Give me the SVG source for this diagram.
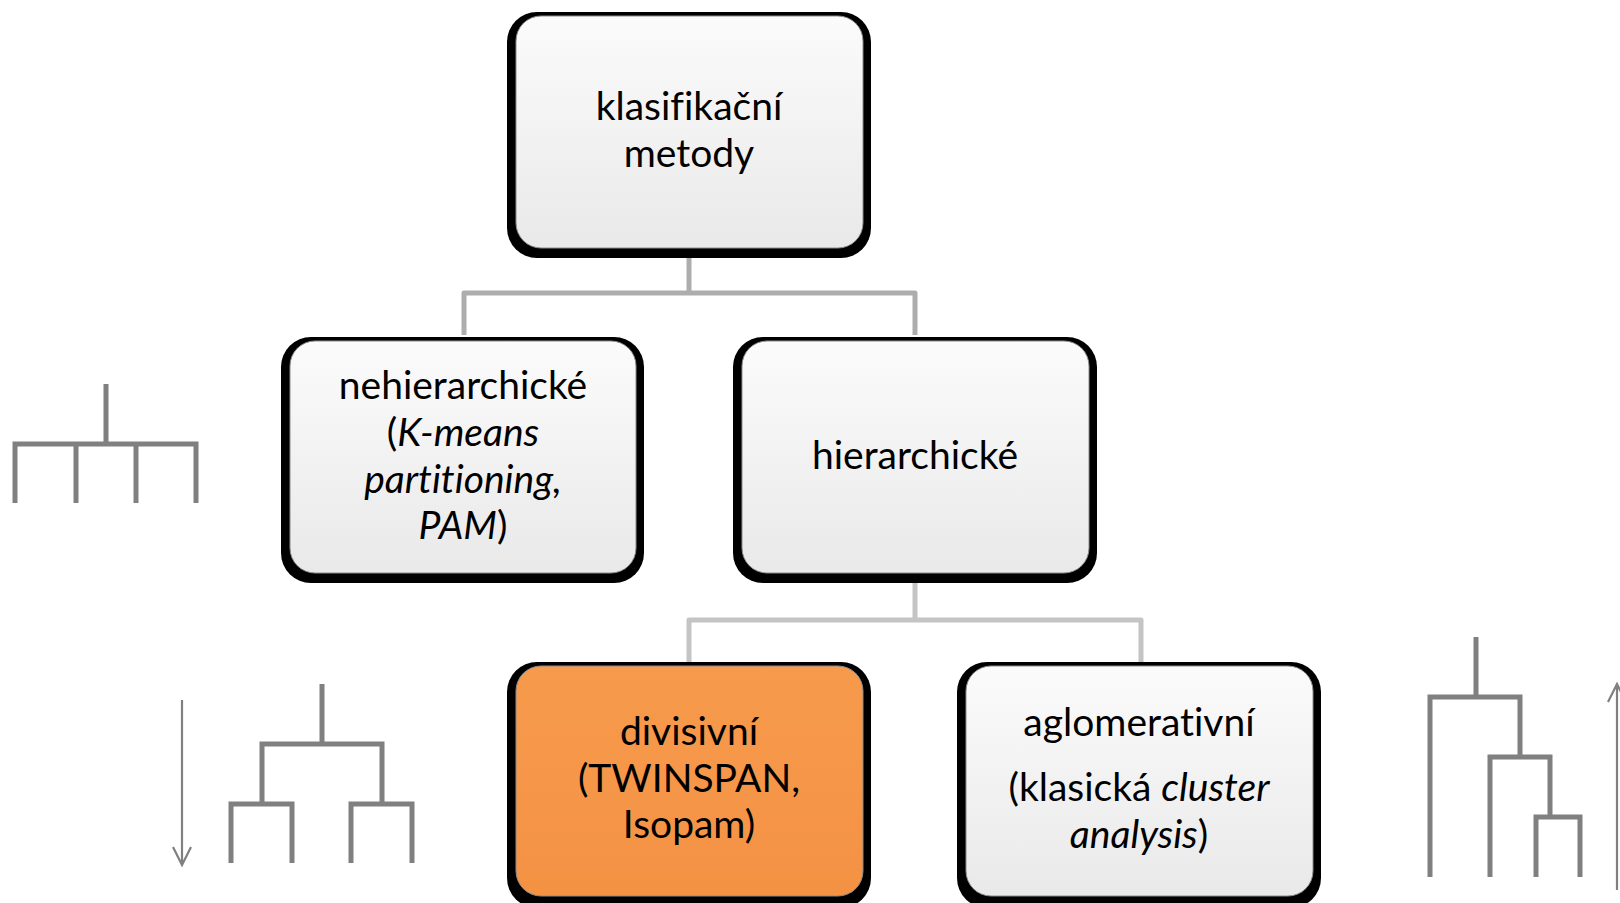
<svg xmlns="http://www.w3.org/2000/svg" width="1620" height="903" viewBox="0 0 1620 903">
<defs>
<linearGradient id="gLight" x1="0" y1="0" x2="0" y2="1">
<stop offset="0" stop-color="#fbfbfb"/>
<stop offset="1" stop-color="#e9e9e9"/>
</linearGradient>
<linearGradient id="gOrange" x1="0" y1="0" x2="0" y2="1">
<stop offset="0" stop-color="#f79a4c"/>
<stop offset="1" stop-color="#f49244"/>
</linearGradient>
<style>
.shadow{fill:#000}
.box{fill:url(#gLight);stroke:#8c8c8c;stroke-width:1}
.box.hl{fill:url(#gOrange)}
.t{font-family:Lato,"Open Sans","Liberation Sans",sans-serif;font-size:39px;fill:#000;text-anchor:middle;font-variant-ligatures:none;font-feature-settings:"liga" 0,"clig" 0}
.i{font-style:italic}
.c1{fill:none;stroke:#adadad;stroke-width:5;stroke-linejoin:round}
.c2{fill:none;stroke:#c4c4c4;stroke-width:5;stroke-linejoin:round}
.den{fill:none;stroke:#808080;stroke-width:5;stroke-linejoin:miter;stroke-linecap:butt}
.arr{fill:none;stroke:#808080;stroke-width:2.2;stroke-linejoin:miter}
</style>
</defs>
<g id="connectors">
<path class="c1" d="M689,250 V293 M464,335 V293 H915 V335"/>
<path class="c2" d="M915,575 V620 M689,662 V620 H1141 V662"/>
</g>
<g id="node-klasifikacni">
<rect class="shadow" x="507" y="12" width="364" height="246" rx="30"/>
<rect class="box" x="516" y="16" width="347" height="232" rx="25"/>
<text class="t" x="689" y="120">klasifikační</text>
<text class="t" x="689" y="167">metody</text>
</g>
<g id="node-nehierarchicke">
<rect class="shadow" x="281" y="337" width="363" height="246" rx="30"/>
<rect class="box" x="290" y="341" width="346" height="232" rx="25"/>
<text class="t" x="463" y="399">nehierarchické</text>
<text class="t" x="463" y="446">(<tspan class="i">K-means</tspan></text>
<text class="t i" x="463" y="493">partitioning,</text>
<text class="t" x="463" y="539"><tspan class="i">PAM</tspan>)</text>
</g>
<g id="node-hierarchicke">
<rect class="shadow" x="733" y="337" width="364" height="246" rx="30"/>
<rect class="box" x="742" y="341" width="347" height="232" rx="25"/>
<text class="t" x="915" y="469">hierarchické</text>
</g>
<g id="node-divisivni">
<rect class="shadow" x="507" y="662" width="364" height="246" rx="30"/>
<rect class="box hl" x="516" y="666" width="347" height="230" rx="25"/>
<text class="t" x="689" y="745">divisivní</text>
<text class="t" x="689" y="792">(TWINSPAN,</text>
<text class="t" x="689" y="838">Isopam)</text>
</g>
<g id="node-aglomerativni">
<rect class="shadow" x="957" y="662" width="364" height="246" rx="30"/>
<rect class="box" x="966" y="666" width="347" height="230" rx="25"/>
<text class="t" x="1139" y="736">aglomerativní</text>
<text class="t" x="1139" y="801">(klasická <tspan class="i">cluster</tspan></text>
<text class="t" x="1139" y="848"><tspan class="i">analysis</tspan>)</text>
</g>
<g id="icon-nonhierarchical">
<path class="den" d="M106,384 V444 M15,503 V444 H196 V503 M76,444 V503 M136,444 V503"/>
</g>
<g id="icon-divisive">
<path class="arr" d="M182,700 V865 M173,847 L182,865 L191,847"/>
<path class="den" d="M322,684 V744 M262,804 V744 H382 V804 M231,863 V804 H292 V863 M351,863 V804 H412 V863"/>
</g>
<g id="icon-agglomerative">
<path class="den" d="M1476,637 V697 M1430,877 V697 H1520 V757 M1490,877 V757 H1550 V817 M1536,877 V817 H1580 V877"/>
<path class="arr" d="M1617,890 V684 M1608,702 L1617,684 L1626,702"/>
</g>
</svg>
